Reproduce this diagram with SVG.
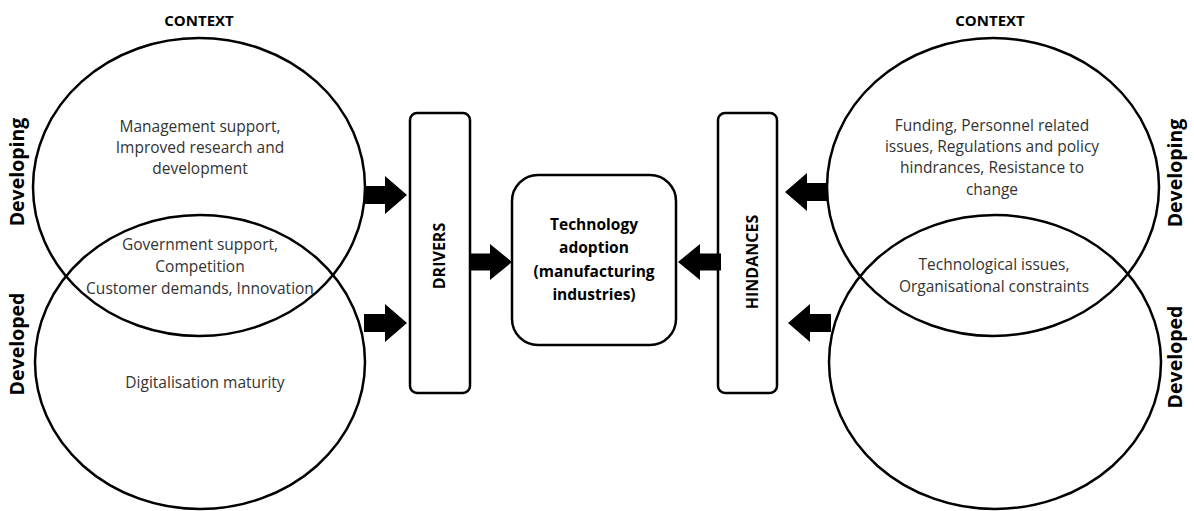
<svg xmlns="http://www.w3.org/2000/svg" width="1194" height="511" viewBox="0 0 1194 511">
  <defs>
    <style>
      .ring { fill: none; stroke: #000; stroke-width: 2.5; }
      .box { fill: #fff; stroke: #000; stroke-width: 2.5; }
      .arrow { fill: #000; }
      .body { font-family: "Open Sans", "Liberation Sans", sans-serif; font-size: 15.5px; fill: #333; text-anchor: middle; }
      .head { font-family: "Open Sans", "Liberation Sans", sans-serif; font-size: 15px; font-weight: bold; fill: #000; text-anchor: middle; }
      .side { font-family: "Open Sans", "Liberation Sans", sans-serif; font-size: 19.5px; font-weight: bold; fill: #000; text-anchor: middle; }
      .core { font-family: "Open Sans", "Liberation Sans", sans-serif; font-size: 15.5px; font-weight: bold; fill: #000; text-anchor: middle; }
      .bar { font-family: "Open Sans", "Liberation Sans", sans-serif; font-size: 16px; font-weight: bold; fill: #000; text-anchor: middle; }
    </style>
    <!-- block arrow pointing right, tip at origin, centred vertically -->
    <path id="blockArrow" d="M-43,-9 L-22,-9 L-22,-19 L0,0 L-22,19 L-22,9 L-43,9 Z"/>
  </defs>

  <rect width="1194" height="511" fill="#fff"/>

  <!-- left context: drivers by economy type -->
  <g id="left-context">
    <text class="head" x="199" y="26">CONTEXT</text>
    <ellipse id="left-developing" class="ring" cx="199" cy="187" rx="166" ry="149"/>
    <ellipse id="left-developed" class="ring" cx="200" cy="362" rx="165" ry="147"/>
    <text class="side" transform="translate(24,172) rotate(-90)">Developing</text>
    <text class="side" transform="translate(24,344) rotate(-90)">Developed</text>
    <text class="body" x="200" y="132">Management support,</text>
    <text class="body" x="200" y="153">Improved research and</text>
    <text class="body" x="200" y="174">development</text>
    <text class="body" x="200" y="250">Government support,</text>
    <text class="body" x="200" y="272">Competition</text>
    <text class="body" x="200" y="294">Customer demands, Innovation</text>
    <text class="body" x="205" y="388">Digitalisation maturity</text>
  </g>

  <!-- right context: hindrances by economy type -->
  <g id="right-context">
    <text class="head" x="990" y="26">CONTEXT</text>
    <ellipse id="right-developing" class="ring" cx="993" cy="187" rx="166" ry="149"/>
    <ellipse id="right-developed" class="ring" cx="995" cy="362" rx="166" ry="147"/>
    <text class="side" transform="translate(1182,173) rotate(-90)">Developing</text>
    <text class="side" transform="translate(1182,357) rotate(-90)">Developed</text>
    <text class="body" x="992" y="131">Funding, Personnel related</text>
    <text class="body" x="992" y="152">issues, Regulations and policy</text>
    <text class="body" x="992" y="173">hindrances, Resistance to</text>
    <text class="body" x="992" y="195">change</text>
    <text class="body" x="994" y="270">Technological issues,</text>
    <text class="body" x="994" y="292">Organisational constraints</text>
  </g>

  <g id="drivers">
    <rect class="box" x="410" y="113" width="60" height="280" rx="7"/>
    <text class="bar" transform="translate(445,256) rotate(-90)">DRIVERS</text>
  </g>

  <g id="technology-adoption">
    <rect class="box" x="512" y="175" width="164" height="170" rx="26"/>
    <text class="core" x="594" y="230">Technology</text>
    <text class="core" x="594" y="253">adoption</text>
    <text class="core" x="594" y="277">(manufacturing</text>
    <text class="core" x="594" y="300">industries)</text>
  </g>

  <g id="hindances">
    <rect class="box" x="718" y="113" width="59" height="280" rx="7"/>
    <text class="bar" transform="translate(758,262) rotate(-90)">HINDANCES</text>
  </g>

  <g id="connectors">
    <use class="arrow" href="#blockArrow" transform="translate(407,195)"/>
    <use class="arrow" href="#blockArrow" transform="translate(407,323)"/>
    <use class="arrow" href="#blockArrow" transform="translate(512,262) scale(1,0.95)"/>
    <use class="arrow" href="#blockArrow" transform="translate(678,262) scale(-1,0.95)"/>
    <use class="arrow" href="#blockArrow" transform="translate(785,192) scale(-1,1)"/>
    <use class="arrow" href="#blockArrow" transform="translate(788,323) scale(-1,1)"/>
  </g>
</svg>
